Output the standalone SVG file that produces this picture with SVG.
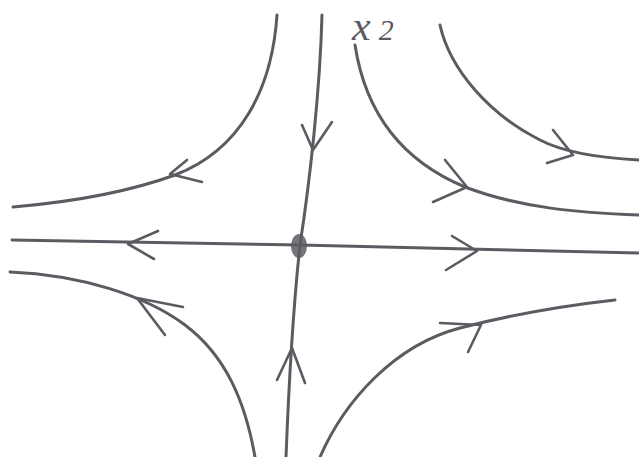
<svg xmlns="http://www.w3.org/2000/svg" width="639" height="457" viewBox="0 0 639 457">
<style>
.c{fill:none;stroke:#5e5a62;stroke-width:3;stroke-linecap:round;stroke-linejoin:round}
.a{fill:none;stroke:#5e5a62;stroke-width:2.6;stroke-linecap:round;stroke-linejoin:round}
.t{font-family:"Liberation Serif",serif;font-style:italic;fill:#5e5a62}
</style>
<rect width="639" height="457" fill="#ffffff"/>
<g id="label-x2"><text class="t" x="352" y="40" font-size="42">x<tspan font-size="30" dx="8">2</tspan></text></g>
<g id="connectors">
<path id="vertical-top" class="c" d="M322,15 C320,90 310,180 300,245"/>
<path id="vertical-bottom" class="c" d="M300,245 C294,300 289,380 286,457"/>
<path id="horizontal" class="c" d="M12,240 L300,245 L639,253"/>
<path id="curve-top-left" class="c" d="M277,15 C272,90 240,150 175,175 C120,195 60,203 13,207"/>
<path id="curve-top-right" class="c" d="M355,45 C365,110 400,160 465,187 C520,208 580,213 639,215"/>
<path id="curve-far-right" class="c" d="M440,25 C450,70 490,115 540,140 C565,153 600,158 639,160"/>
<path id="curve-bottom-left" class="c" d="M10,272 C80,275 145,295 185,325 C225,355 245,400 255,457"/>
<path id="curve-bottom-right" class="c" d="M320,457 C345,400 395,345 460,328 C510,315 570,305 615,300"/>
<path id="arrow-top-left" class="a" d="M187,160 L170,174 L202,182"/>
<path id="arrow-vertical-top" class="a" d="M302,125 L313,150 L332,122"/>
<path id="arrow-vertical-bottom" class="a" d="M277,380 L292,348 L305,383"/>
<path id="arrow-left" class="a" d="M158,231 L128,244 L154,259"/>
<path id="arrow-right" class="a" d="M452,236 L477,251 L446,270"/>
<path id="arrow-top-right" class="a" d="M445,160 L467,187 L433,202"/>
<path id="arrow-far-right" class="a" d="M553,130 L573,155 L547,163"/>
<path id="arrow-bottom-left" class="a" d="M183,307 L137,298 L165,335"/>
<path id="arrow-bottom-right" class="a" d="M440,323 L481,325 L468,352"/>
</g>
<g id="node-origin"><ellipse cx="299" cy="246" rx="8" ry="12" fill="#5e5a62" opacity="0.85"/></g>
</svg>
